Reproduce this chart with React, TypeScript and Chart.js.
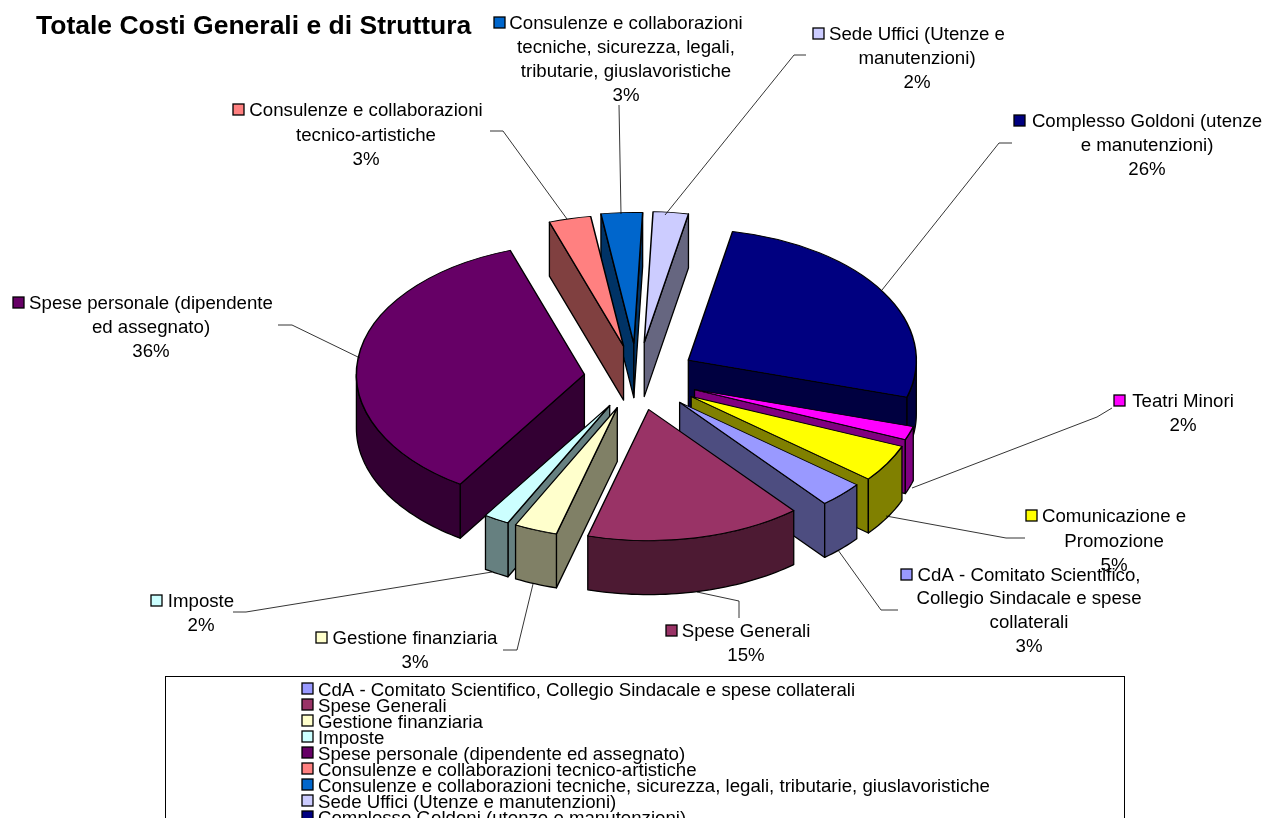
import React, { useEffect, useRef } from "react";
import { Chart, registerables } from "chart.js";

Chart.register(...registerables);

// ---- data ----
const chartTitle = "Totale Costi Generali e di Struttura";
const categories = [
  "CdA - Comitato Scientifico, Collegio Sindacale e spese collaterali",
  "Spese Generali",
  "Gestione finanziaria",
  "Imposte",
  "Spese personale (dipendente ed assegnato)",
  "Consulenze e collaborazioni tecnico-artistiche",
  "Consulenze e collaborazioni tecniche, sicurezza, legali, tributarie, giuslavoristiche",
  "Sede Uffici (Utenze e manutenzioni)",
  "Complesso Goldoni (utenze e manutenzioni)",
  "Teatri Minori",
  "Comunicazione e Promozione",
];
const shares = [3.19, 15.28, 3.06, 1.81, 35.56, 2.97, 2.92, 2.49, 26.45, 1.67, 4.61];

// ---- styles ----
const topColors = ["#9999FF", "#993366", "#FFFFCC", "#CCFFFF", "#660066", "#FF8080", "#0066CC", "#CCCCFF", "#000080", "#FF00FF", "#FFFF00"];
const wallColors = ["#4D4D80", "#4D1A33", "#808066", "#668080", "#330033", "#804040", "#003366", "#666680", "#000040", "#800080", "#808000"];
const explode = [60, 56, 55, 55, 53, 57, 60, 62, 60, 61, 63];

// ---- layout ----
const FONT = '"Liberation Sans", Arial, sans-serif';
const LABEL_SIZE = 18.67;
const CX = 637;
const CY = 378;
const RADIUS = 228;
const SQUASH = 0.575;
const DEPTH = 54;
const START_ROTATION = 129;

type Lbl = { mx: number; lines: [string, number, number][]; leader: [number, number][] };
const dataLabels: Lbl[] = [
  { mx: 901, lines: [["CdA - Comitato Scientifico,", 1029, 574], ["Collegio Sindacale e spese", 1029, 597], ["collaterali", 1029, 621]], leader: [[898, 610], [881, 610], [838, 550]] },
  { mx: 666, lines: [["Spese Generali", 746, 630]], leader: [[739, 618], [739, 601], [697, 592]] },
  { mx: 316, lines: [["Gestione finanziaria", 415, 637]], leader: [[503, 650], [517, 650], [533, 584]] },
  { mx: 151, lines: [["Imposte", 201, 600]], leader: [[233, 612], [246, 612], [492, 572]] },
  { mx: 13, lines: [["Spese personale (dipendente", 151, 302], ["ed assegnato)", 151, 326]], leader: [[278, 325], [292, 325], [360, 358]] },
  { mx: 233, lines: [["Consulenze e collaborazioni", 366, 109], ["tecnico-artistiche", 366, 134]], leader: [[490, 131], [503, 131], [567, 219]] },
  { mx: 494, lines: [["Consulenze e collaborazioni", 626, 22], ["tecniche, sicurezza, legali,", 626, 46], ["tributarie, giuslavoristiche", 626, 70]], leader: [[619, 105], [621, 214]] },
  { mx: 813, lines: [["Sede Uffici (Utenze e", 917, 33], ["manutenzioni)", 917, 57]], leader: [[806, 55], [794, 55], [665, 215]] },
  { mx: 1014, lines: [["Complesso Goldoni (utenze", 1147, 120], ["e manutenzioni)", 1147, 144]], leader: [[1012, 143], [999, 143], [882, 290]] },
  { mx: 1114, lines: [["Teatri Minori", 1183, 400]], leader: [[1112, 408], [1097, 417], [912, 488]] },
  { mx: 1026, lines: [["Comunicazione e", 1114, 515], ["Promozione", 1114, 540]], leader: [[1025, 538], [1006, 538], [886, 516]] },
];

const shift = (a: any, i: number) => {
  const mid = (a.startAngle + a.endAngle) / 2;
  return [Math.cos(mid) * explode[i], Math.sin(mid) * explode[i]];
};

const pseudo3d = {
  id: "pseudo3d",
  beforeDatasetDraw(chart: any) {
    const ctx = chart.ctx;
    const arcs: any[] = chart.getDatasetMeta(0).data;
    const px = (a: any, i: number, ang: number, r: number) => {
      const s = shift(a, i);
      return [a.x + s[0] + r * Math.cos(ang), a.y + SQUASH * (s[1] + r * Math.sin(ang))];
    };
    const order = arcs
      .map((a, i) => {
        const mid = (a.startAngle + a.endAngle) / 2;
        return { a, i, key: px(a, i, mid, a.outerRadius * 0.6)[1] };
      })
      .sort((p, q) => p.key - q.key);
    ctx.save();
    ctx.strokeStyle = "#000";
    ctx.lineWidth = 1.3;
    ctx.lineJoin = "round";
    for (const { a, i } of order) {
      ctx.fillStyle = wallColors[i];
      const R = a.outerRadius;
      const radial = (ang: number) => {
        const p0 = px(a, i, 0, 0);
        const p1 = px(a, i, ang, R);
        ctx.beginPath();
        ctx.moveTo(p0[0], p0[1]);
        ctx.lineTo(p1[0], p1[1]);
        ctx.lineTo(p1[0], p1[1] + DEPTH);
        ctx.lineTo(p0[0], p0[1] + DEPTH);
        ctx.closePath();
        ctx.fill();
        ctx.stroke();
      };
      if (Math.cos(a.startAngle) < 0) radial(a.startAngle);
      if (Math.cos(a.endAngle) > 0) radial(a.endAngle);
      // outer rim: the part of the arc that faces the viewer
      const TAU = Math.PI * 2;
      for (const k of [-1, 0, 1]) {
        const lo = Math.max(a.startAngle, k * TAU);
        const hi = Math.min(a.endAngle, k * TAU + Math.PI);
        if (hi <= lo) continue;
        const n = Math.max(4, Math.ceil((hi - lo) * 40));
        ctx.beginPath();
        for (let s = 0; s <= n; s++) {
          const p = px(a, i, lo + ((hi - lo) * s) / n, R);
          if (s === 0) ctx.moveTo(p[0], p[1]);
          else ctx.lineTo(p[0], p[1]);
        }
        for (let s = n; s >= 0; s--) {
          const p = px(a, i, lo + ((hi - lo) * s) / n, R);
          ctx.lineTo(p[0], p[1] + DEPTH);
        }
        ctx.closePath();
        ctx.fill();
        ctx.stroke();
      }
    }
    ctx.restore();
    // the library's own arc elements, flattened onto the ellipse and pulled apart
    arcs.forEach((a, i) => {
      const s = shift(a, i);
      ctx.save();
      ctx.translate(s[0], CY + SQUASH * s[1]);
      ctx.scale(1, SQUASH);
      ctx.translate(0, -CY);
      a.draw(ctx);
      ctx.restore();
    });
    return false;
  },
  afterDatasetsDraw(chart: any) {
    const ctx = chart.ctx;
    const sum = shares.reduce((s, v) => s + v, 0);
    ctx.save();
    // title
    ctx.fillStyle = "#000";
    ctx.textBaseline = "middle";
    ctx.textAlign = "left";
    ctx.font = `bold 26.5px ${FONT}`;
    ctx.fillText(chartTitle, 36, 27);
    // data labels with leader lines
    ctx.font = `${LABEL_SIZE}px ${FONT}`;
    dataLabels.forEach((l, i) => {
      ctx.strokeStyle = "#000";
      ctx.lineWidth = 0.8;
      ctx.beginPath();
      l.leader.forEach((p, j) => (j ? ctx.lineTo(p[0], p[1]) : ctx.moveTo(p[0], p[1])));
      ctx.stroke();
      ctx.fillStyle = topColors[i];
      ctx.lineWidth = 1.3;
      ctx.fillRect(l.mx, l.lines[0][2] - 5, 11, 11);
      ctx.strokeRect(l.mx, l.lines[0][2] - 5, 11, 11);
      ctx.fillStyle = "#000";
      ctx.textAlign = "center";
      l.lines.forEach(([t, x, y]) => ctx.fillText(t, x, y + 2));
      const last = l.lines[l.lines.length - 1];
      const pct = `${Math.round((shares[i] / sum) * 100)}%`;
      ctx.fillText(pct, last[1], last[2] + 26);
    });
    // legend box, running past the bottom of the page
    ctx.strokeStyle = "#000";
    ctx.lineWidth = 1;
    ctx.strokeRect(165.5, 676.5, 959, 200);
    ctx.textAlign = "left";
    categories.forEach((c, i) => {
      const y = 689 + i * 16;
      ctx.fillStyle = topColors[i];
      ctx.lineWidth = 1.3;
      ctx.fillRect(302, y - 6, 11, 11);
      ctx.strokeRect(302, y - 6, 11, 11);
      ctx.fillStyle = "#000";
      ctx.fillText(c, 318, y + 1.5);
    });
    ctx.restore();
  },
};

export default function App() {
  const ref = useRef<HTMLCanvasElement>(null);
  useEffect(() => {
    document.body.style.margin = "0";
    document.documentElement.style.overflow = "hidden";
    const chart = new Chart(ref.current!, {
      type: "pie",
      data: {
        labels: categories,
        datasets: [
          {
            data: shares,
            backgroundColor: topColors,
            borderColor: "#000",
            borderWidth: 1.5,
            borderJoinStyle: "round",
          } as any,
        ],
      },
      options: {
        responsive: false,
        animation: false,
        devicePixelRatio: 1,
        rotation: START_ROTATION,
        radius: RADIUS,
        layout: { padding: { left: 2 * CX - 1265, right: 0, top: 0, bottom: 818 - 2 * CY } },
        plugins: { legend: { display: false }, title: { display: false }, tooltip: { enabled: false } },
      } as any,
      plugins: [pseudo3d as any],
    });
    return () => chart.destroy();
  }, []);
  return <canvas ref={ref} width={1265} height={818} style={{ display: "block" }} />;
}
